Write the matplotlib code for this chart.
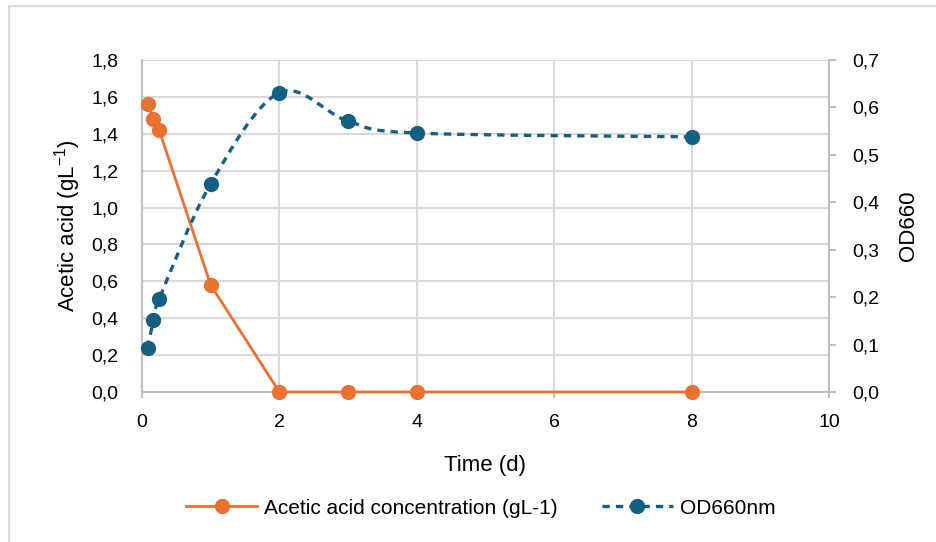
import matplotlib
matplotlib.use("Agg")
import matplotlib.pyplot as plt
from matplotlib.lines import Line2D
from matplotlib.path import Path
from matplotlib.patches import PathPatch
import numpy as np

# ---- data ----
time_d = [0.083, 0.167, 0.25, 1, 2, 3, 4, 8]
acetic_acid = [1.56, 1.48, 1.42, 0.58, 0.0, 0.0, 0.0, 0.0]
od660 = [0.093, 0.152, 0.196, 0.439, 0.631, 0.571, 0.546, 0.538]
x_ticks = [0, 2, 4, 6, 8, 10]
left_ticks = [0.0, 0.2, 0.4, 0.6, 0.8, 1.0, 1.2, 1.4, 1.6, 1.8]
right_ticks = [0.0, 0.1, 0.2, 0.3, 0.4, 0.5, 0.6, 0.7]

ORANGE = "#E97132"
BLUE = "#156082"
GRID = "#d9d9d9"
SPINE = "#bfbfbf"
FONT = ["Liberation Sans", "DejaVu Sans"]

plt.rcParams["font.family"] = FONT
plt.rcParams["mathtext.default"] = "regular"

fig = plt.figure(figsize=(9.36, 5.42), dpi=100)
ax = fig.add_axes([142/936, 1-392/542, (829-142)/936, (392-60)/542])
ax2 = ax.twinx()

ax.set_xlim(0, 10)
ax.set_ylim(0, 1.8)
ax2.set_ylim(0, 0.7)

def comma(v, nd=1):
    return f"{v:.{nd}f}".replace(".", ",")

ax.set_xticks(x_ticks)
ax.set_xticklabels([str(t) for t in x_ticks])
ax.set_yticks(left_ticks)
ax.set_yticklabels([comma(t) for t in left_ticks])
ax2.set_yticks(right_ticks)
ax2.set_yticklabels([comma(t) for t in right_ticks])

ax.grid(True, color=GRID, linewidth=1.5, zorder=0)
ax.set_axisbelow(True)
for a in (ax, ax2):
    for s in a.spines.values():
        s.set_visible(False)
ax.spines["left"].set_visible(True)
ax.spines["bottom"].set_visible(True)
ax2.spines["right"].set_visible(True)
for s in (ax.spines["left"], ax.spines["bottom"], ax2.spines["right"]):
    s.set_color(SPINE)
    s.set_linewidth(1.5)

TICK_FS = 14
ax.tick_params(axis="x", colors=SPINE, labelcolor="#000000", labelsize=TICK_FS,
               length=4.5, width=1.5, pad=11)
ax.tick_params(axis="y", colors=SPINE, labelcolor="#000000", labelsize=TICK_FS,
               length=0, pad=17)
ax2.tick_params(axis="y", colors=SPINE, labelcolor="#000000", labelsize=TICK_FS,
                length=5, width=1.5, pad=12)

# orange series (straight line)
ax.plot(time_d, acetic_acid, color=ORANGE, linewidth=2.0, marker="o",
        markersize=10, zorder=3, clip_on=False)

# blue series: smoothed curve (Catmull-Rom style, computed in display space)
fig.canvas.draw()
pts = ax2.transData.transform(np.column_stack([time_d, od660]))
n = len(pts)
verts = [pts[0]]
codes = [Path.MOVETO]
for i in range(n - 1):
    p0 = pts[i - 1] if i > 0 else pts[i]
    p1 = pts[i]
    p2 = pts[i + 1]
    p3 = pts[i + 2] if i + 2 < n else pts[i + 1]
    c1 = p1 + (p2 - p0) / 6.0
    c2 = p2 - (p3 - p1) / 6.0
    verts += [c1, c2, p2]
    codes += [Path.CURVE4] * 3
verts_data = ax2.transData.inverted().transform(np.array(verts))
path = Path(verts_data, codes)
DASH = (0, (2.2, 1.8))
patch = PathPatch(path, facecolor="none", edgecolor=BLUE, linewidth=2.4,
                  linestyle=DASH, transform=ax2.transData, zorder=3)
ax2.add_patch(patch)
ax2.plot(time_d, od660, linestyle="none", marker="o", color=BLUE,
         markersize=10, zorder=4, clip_on=False)

LAB_FS = 16
ax.set_ylabel("Acetic acid (gL$^{-1}$)", fontsize=LAB_FS, va="center")
ax.yaxis.set_label_coords((68-142)/687, 0.5)
ax2.set_ylabel("OD660", fontsize=LAB_FS, va="center")
ax2.yaxis.set_label_coords((908-142)/687, 0.5)
ax.set_xlabel("Time (d)", fontsize=LAB_FS, va="center")
ax.xaxis.set_label_coords(0.5, (392-466)/332)

handles = [
    Line2D([], [], color=ORANGE, linewidth=2.0, marker="o", markersize=10),
    Line2D([], [], color=BLUE, linewidth=2.4, linestyle=DASH,
           marker="o", markersize=10),
]
fig.legend(handles, ["Acetic acid concentration (gL-1)", "OD660nm"],
           loc="center", bbox_to_anchor=(481/936, 1-508/542), ncol=2,
           frameon=False, prop={"size": 15},
           handlelength=3.4, columnspacing=2.1, handletextpad=0.35)

# chart border (left and top)
fig.add_artist(Line2D([9/936, 9/936], [0, 1-6/542], color=GRID, linewidth=1.5,
                      transform=fig.transFigure))
fig.add_artist(Line2D([9/936, 1], [1-6/542, 1-6/542], color=GRID, linewidth=1.5,
                      transform=fig.transFigure))

fig.savefig("out.png", dpi=100)
